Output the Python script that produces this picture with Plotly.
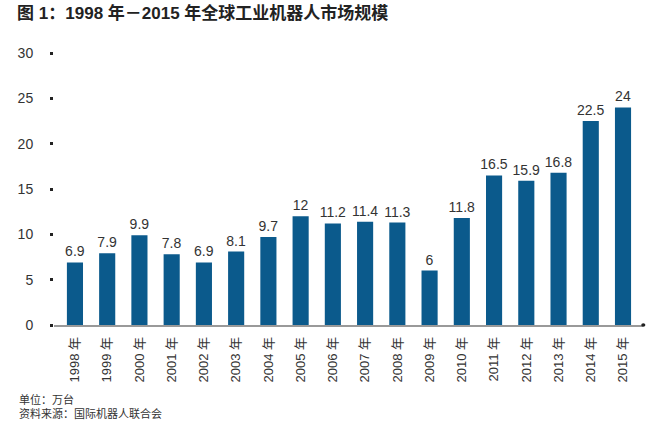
import plotly.graph_objects as go

years = ["1998 年", "1999 年", "2000 年", "2001 年", "2002 年", "2003 年",
         "2004 年", "2005 年", "2006 年", "2007 年", "2008 年", "2009 年",
         "2010 年", "2011 年", "2012 年", "2013 年", "2014 年", "2015 年"]
market = [6.9, 7.9, 9.9, 7.8, 6.9, 8.1, 9.7, 12, 11.2, 11.4, 11.3, 6,
          11.8, 16.5, 15.9, 16.8, 22.5, 24]
y_ticks = [0, 5, 10, 15, 20, 25, 30]

font_fam = "Liberation Sans, Arial, Noto Sans CJK SC"

fig = go.Figure()
fig.add_bar(
    x=years, y=market, width=0.5,
    marker=dict(color="#0b5a8c", line=dict(width=0)),
    text=[str(v) for v in market], textposition="outside",
    textfont=dict(size=14, color="#333333", family=font_fam),
    cliponaxis=False,
)

fig.update_layout(
    width=658, height=423,
    margin=dict(l=54, r=15, t=53, b=98),
    paper_bgcolor="white", plot_bgcolor="white",
    showlegend=False,
    font=dict(family=font_fam, color="#333333"),
    uniformtext=dict(minsize=14, mode="show"),
    title=dict(text="<b>图 1：1998 年－2015 年全球工业机器人市场规模</b>",
               x=0.026, xanchor="left", y=0.97, yanchor="middle",
               font=dict(size=17, color="#222222", family=font_fam)),
    xaxis=dict(
        range=[-0.65, 17.62], showgrid=False, tickangle=-90,
        showline=True, linecolor="#999999", linewidth=1.5,
        ticks="", ticklabelstandoff=5,
        tickfont=dict(size=13, color="#333333"),
    ),
    yaxis=dict(
        range=[0, 30], tickvals=y_ticks, showgrid=False, zeroline=False,
        showline=False, ticks="outside", ticklen=3, tickwidth=3,
        tickcolor="#222222", ticklabelstandoff=14,
        tickfont=dict(size=14, color="#333333"),
    ),
    shapes=[
        # small dot at the end of the category axis
        dict(type="circle", xref="paper", yref="paper",
             x0=0.997, x1=1.004, y0=-0.006, y1=0.006,
             fillcolor="#222222", line=dict(width=0)),
    ],
    annotations=[
        dict(text="单位：万台<br>资料来源：国际机器人联合会",
             xref="paper", yref="paper", x=-0.063, y=-0.243,
             xanchor="left", yanchor="top", align="left", showarrow=False,
             font=dict(size=11, color="#333333")),
    ],
)

fig.write_html("out.html", config={"displayModeBar": False},
               post_script="document.body.style.margin='0';")
